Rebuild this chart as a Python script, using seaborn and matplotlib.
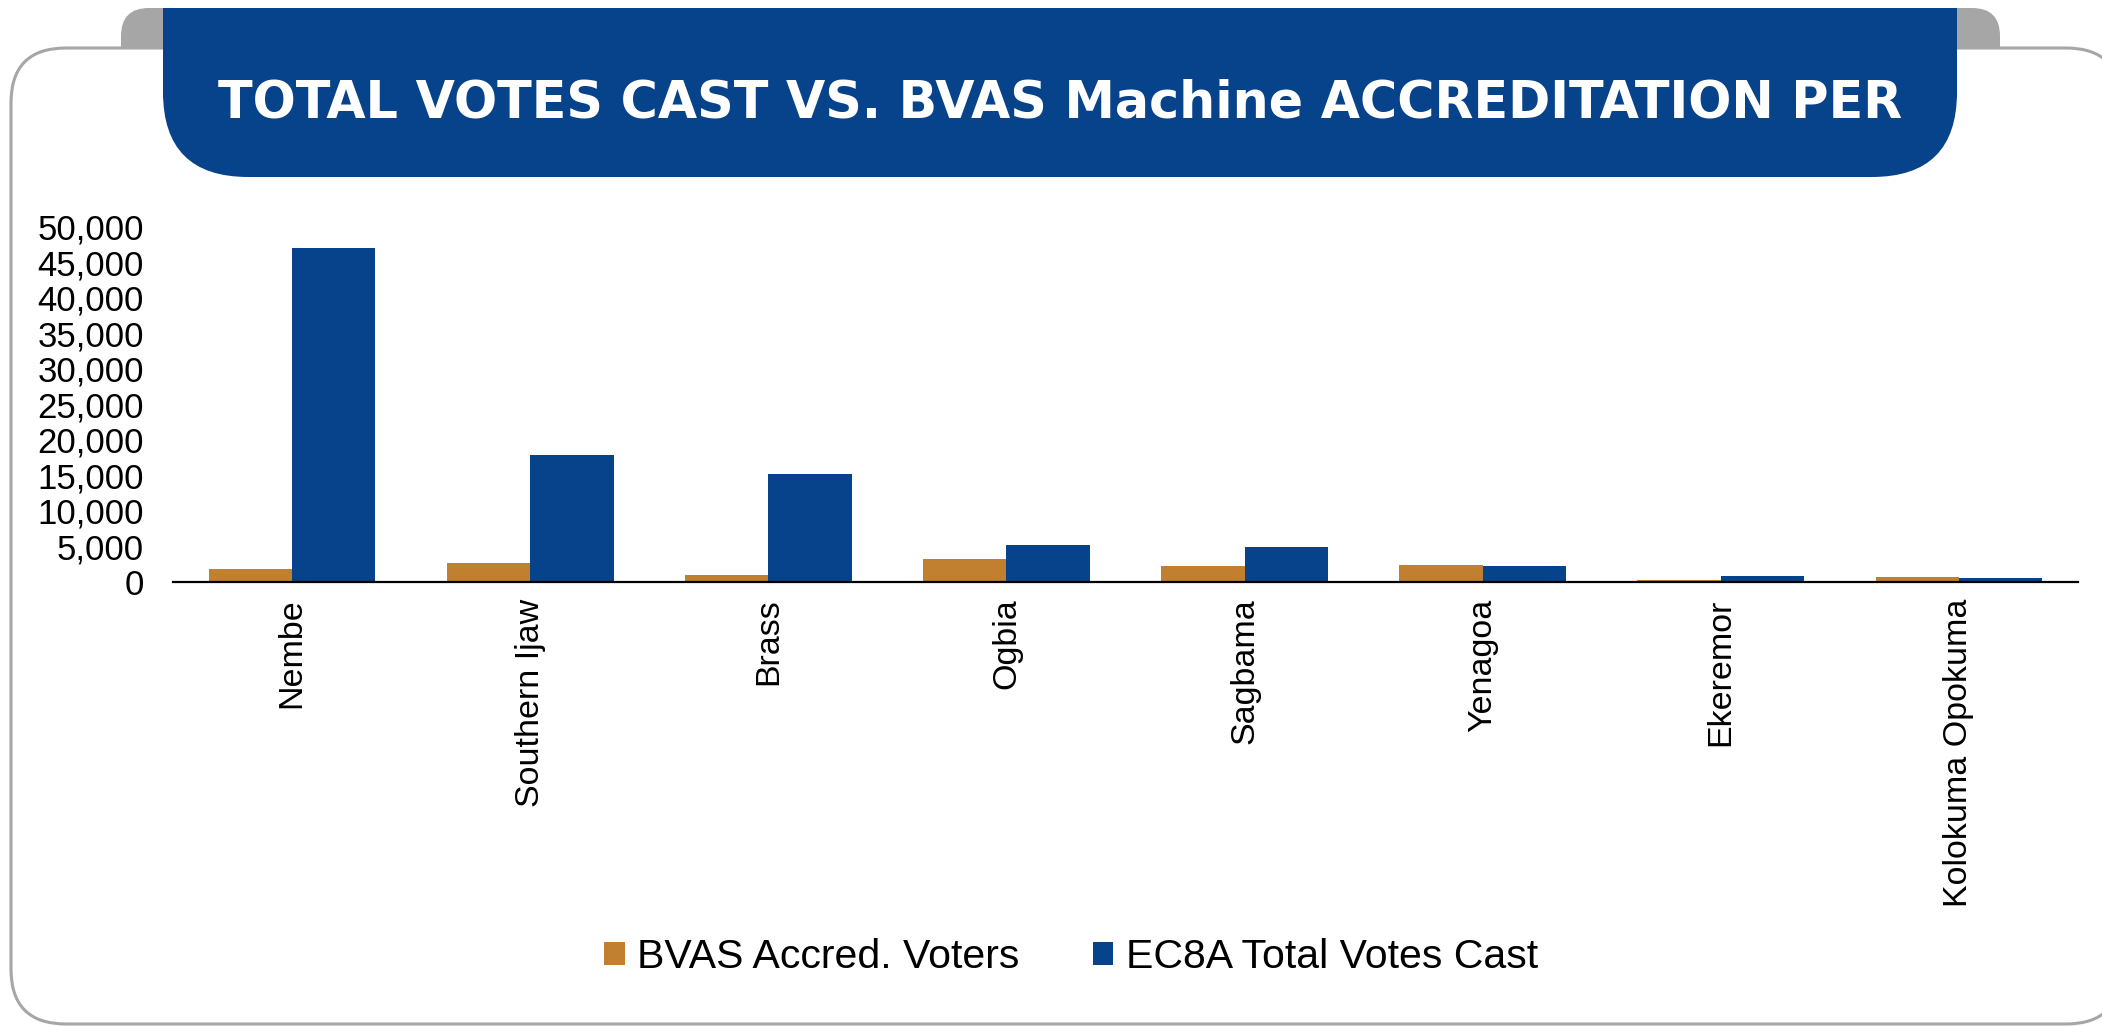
import pandas as pd
import matplotlib
matplotlib.use("Agg")
import matplotlib.pyplot as plt
from matplotlib.patches import FancyBboxPatch, Rectangle
from matplotlib.ticker import FuncFormatter
import seaborn as sns

# Data
lgas = ["Nembe", "Southern Ijaw", "Brass", "Ogbia", "Sagbama",
        "Yenagoa", "Ekeremor", "Kolokuma Opokuma"]
bvas_accredited = [1900, 2650, 950, 3300, 2200, 2350, 350, 650]
ec8a_votes_cast = [47000, 17950, 15200, 5150, 4900, 2300, 800, 620]
series_names = ["BVAS Accred. Voters", "EC8A Total Votes Cast"]
y_ticks = list(range(0, 50001, 5000))

ORANGE = "#C08030"
BLUE = "#07438A"
GRAY = "#A6A6A6"

W, H = 2102, 1027

df = pd.DataFrame({
    "lga": lgas * 2,
    "votes": bvas_accredited + ec8a_votes_cast,
    "series": [series_names[0]] * len(lgas) + [series_names[1]] * len(lgas),
})

sns.set_style("white")
plt.rcParams["font.family"] = ["Liberation Sans", "DejaVu Sans"]

fig = plt.figure(figsize=(W / 100, H / 100), dpi=100)

# background card with header tab, in pixel coordinates
bg = fig.add_axes([0, 0, 1, 1], zorder=0)
bg.set_xlim(0, W)
bg.set_ylim(H, 0)
bg.axis("off")
bg.add_patch(FancyBboxPatch((121, 8), 1879, 80, boxstyle="round,pad=0,rounding_size=28",
                            fc=GRAY, ec="none"))
bg.add_patch(FancyBboxPatch((11, 48), 2110, 976, boxstyle="round,pad=0,rounding_size=55",
                            fc="white", ec=GRAY, lw=2.2))
bg.add_patch(FancyBboxPatch((163, 8), 1794, 169, boxstyle="round,pad=0,rounding_size=85",
                            fc=BLUE, ec="none"))
bg.add_patch(Rectangle((163, 8), 1794, 90, fc=BLUE, ec="none"))
bg.text(1060, 117, "TOTAL VOTES CAST VS. BVAS Machine ACCREDITATION PER",
        color="white", fontsize=36.5, fontweight="bold", family="DejaVu Sans",
        ha="center", va="baseline")
# second title line falls below the banner (white on white), as in the original
bg.text(1060, 218, "LGA", color="white", fontsize=36.5, fontweight="bold",
        family="DejaVu Sans", ha="center", va="baseline")

# main bar chart
ax = fig.add_axes([0.0823, 0.4333, 0.9063, 0.3457], zorder=1)
ax.patch.set_alpha(0)
sns.barplot(data=df, x="lga", y="votes", hue="series", palette=[ORANGE, BLUE],
            width=0.7, saturation=1, errorbar=None, linewidth=0, ax=ax)

ax.set_xlim(-0.5, len(lgas) - 0.5)
ax.set_ylim(0, 50000)
ax.set_yticks(y_ticks)
ax.yaxis.set_major_formatter(FuncFormatter(lambda v, p: f"{int(v):,}"))
ax.set_xlabel("")
ax.set_ylabel("")
for side in ["top", "right", "left"]:
    ax.spines[side].set_visible(False)
ax.spines["bottom"].set_color("black")
ax.spines["bottom"].set_linewidth(1.6)
ax.tick_params(axis="y", length=0, pad=21, labelsize=25, labelcolor="black")
ax.tick_params(axis="x", length=0, pad=12, labelsize=24.5, rotation=90,
               labelcolor="black")

sns.move_legend(ax, "center", bbox_to_anchor=(0.5095, 0.068),
                bbox_transform=fig.transFigure, ncol=2, frameon=False, title=None,
                fontsize=29.5, handlelength=0.5, handleheight=0.5,
                handletextpad=0.3, columnspacing=1.8, labelcolor="black")

fig.savefig("out.png", dpi=100)
